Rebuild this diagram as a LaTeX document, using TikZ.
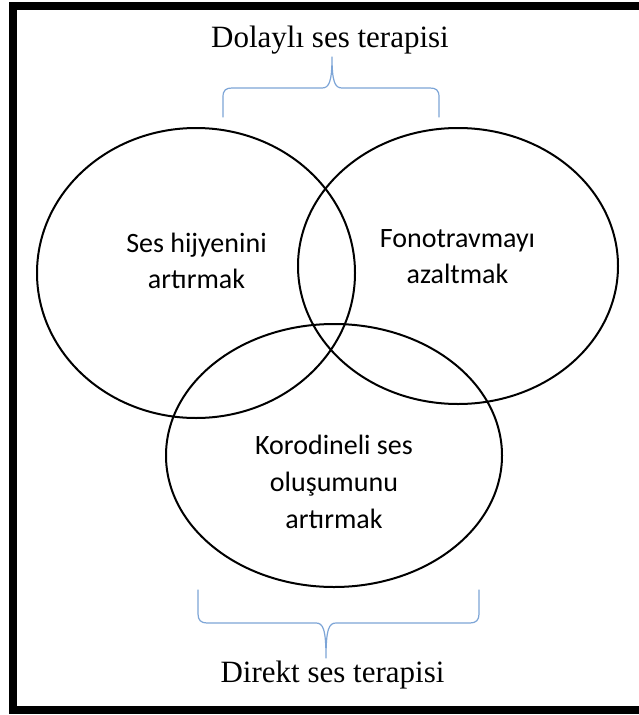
\documentclass[tikz,border=0pt]{standalone}
\usepackage{fontspec}
\setmainfont{Liberation Serif}
\newfontfamily\calib{Carlito}
\definecolor{bracecol}{RGB}{125,165,215}
\begin{document}
\begin{tikzpicture}[x=1pt,y=-1pt,
  venn/.style={line width=2pt, draw=black},
  bracket/.style={draw=bracecol, line width=1.2pt, line join=round, line cap=round},
  lbl/.style={font=\calib\fontsize{28}{36}\selectfont, align=center, anchor=base, inner sep=0pt},
  ttl/.style={font=\fontsize{31}{37}\selectfont, anchor=base, inner sep=0pt},
  frameline/.style={line width=8pt, line join=miter}]
\useasboundingbox (0,0) rectangle (639,715);
\fill[white] (0,0) rectangle (639,715);
\begin{scope}
\clip (0,0) rectangle (639,715);
\draw[frameline] (660,6) -- (13,6) -- (13,710) -- (660,710);
\end{scope}
% ellipse centres
\coordinate (cL) at (196,273);
\coordinate (cR) at (458,266);
\coordinate (cB) at (334,455.5);
\draw[venn] (cL) ellipse [x radius=159, y radius=145];
\draw[venn] (cR) ellipse [x radius=160, y radius=138];
\draw[venn] (cB) ellipse [x radius=168, y radius=131.5];
% labels (base anchor = baseline of last line)
\node[lbl] (tL) at (196.5,288) {Ses hijyenini\\artırmak};
\node[lbl] (tR) at (457.5,283) {Fonotravmayı\\azaltmak};
\node[lbl, font=\calib\fontsize{28}{37}\selectfont] (tB) at (334,528) {Korodineli ses\\oluşumunu\\artırmak};
% titles
\node[ttl] (top) at (330,47) {Dolaylı ses terapisi};
\node[ttl] (bot) at (332.5,682) {Direkt ses terapisi};
% top brace
\coordinate (tbL) at (223,117);
\coordinate (tbTip) at (332,57);
\coordinate (tbR) at (439,117);
\draw[bracket] (tbL) -- (223,97) .. controls (223,90) and (226,88) .. (232,88) -- (322,88)
  .. controls (329,88) and (332,82) .. (tbTip)
  .. controls (332,82) and (335,88) .. (342,88) -- (430,88)
  .. controls (436,88) and (439,90) .. (439,97) -- (tbR);
% bottom brace
\coordinate (bbL) at (198,590);
\coordinate (bbTip) at (326,658);
\coordinate (bbR) at (479,590);
\draw[bracket] (bbL) -- (198,614) .. controls (198,620) and (201,623) .. (207,623) -- (316,623)
  .. controls (323,623) and (326,629) .. (bbTip)
  .. controls (326,629) and (329,623) .. (336,623) -- (470,623)
  .. controls (476,623) and (479,620) .. (479,614) -- (bbR);
\end{tikzpicture}
\end{document}
